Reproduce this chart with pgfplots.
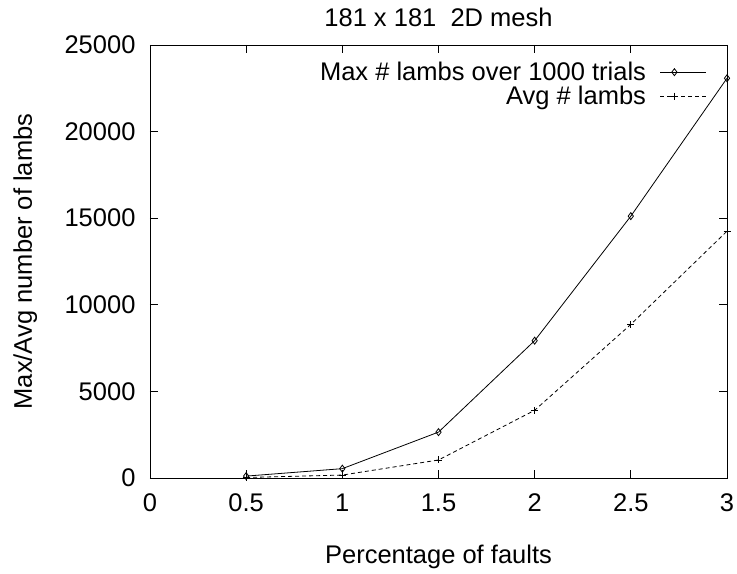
\documentclass[border=0pt]{standalone}
\usepackage{fontspec}
\setmainfont{Liberation Sans}
\usepackage{pgfplots}
\pgfplotsset{compat=1.18}
\usetikzlibrary{calc}
\begin{document}
\begin{tikzpicture}
\begin{axis}[
  scale only axis,
  width=577pt, height=433pt,
  xmin=0, xmax=3, ymin=0, ymax=25000,
  xtick={0,0.5,1,1.5,2,2.5,3},
  xticklabels={0,0.5,1,1.5,2,2.5,3},
  ytick={0,5000,10000,15000,20000,25000},
  yticklabels={0,5000,10000,15000,20000,25000},
  scaled y ticks=false,
  tick align=inside,
  major tick length=8pt,
  tick style={black, line width=0.8pt},
  axis line style={line width=0.9pt},
  every tick label/.append style={font=\fontsize{25.5}{30}\selectfont},
  xticklabel style={yshift=-12pt},
  yticklabel style={xshift=-11pt},
  title={181 x 181\ \ 2D mesh},
  title style={font=\fontsize{25.5}{30}\selectfont, at={(axis description cs:0.5,1)}, anchor=base, yshift=12pt},
  xlabel={Percentage of faults},
  xlabel style={font=\fontsize{25.5}{30}\selectfont, at={(axis description cs:0.5,0)}, anchor=base, yshift=-85pt},
  ylabel={Max/Avg number of lambs},
  ylabel style={font=\fontsize{25.5}{30}\selectfont, at={(axis description cs:0,0.5)}, anchor=base, yshift=118pt},
  legend plot pos=right,
  legend cell align=right,
  legend style={draw=none, fill=none, at={(axis description cs:1,1)}, anchor=north east, xshift=-20pt, yshift=-17pt,
    font=\fontsize{25.5}{30}\selectfont, inner sep=0pt, row sep=4pt, /tikz/column sep=14pt,
    nodes={inner sep=0pt}},
  legend image code/.code={\draw[mark repeat=2,mark phase=2,#1] plot coordinates {(0pt,0pt) (14pt,0pt) (46pt,0pt)};},
]
\addplot[black, line width=0.8pt, mark=diamond, mark size=3.5pt, mark options={solid, line width=0.8pt}]
  coordinates {(0.5,110) (1,540) (1.5,2650) (2,7930) (2.5,15120) (3,23080)};
\addlegendentry{Max \# lambs over 1000 trials}
\addplot[black, line width=0.8pt, dash pattern=on 4pt off 3pt, mark=+, mark size=3.5pt, mark options={solid, line width=0.8pt}]
  coordinates {(0.5,30) (1,170) (1.5,1040) (2,3910) (2.5,8870) (3,14250)};
\addlegendentry{Avg \# lambs}
\coordinate (bl) at (rel axis cs:0,0);
\coordinate (tr) at (rel axis cs:1,1);
\end{axis}
\pgfresetboundingbox
\path[use as bounding box] ($(bl)+(-150pt,-95pt)$) rectangle ($(tr)+(10pt,45pt)$);
\end{tikzpicture}
\end{document}
